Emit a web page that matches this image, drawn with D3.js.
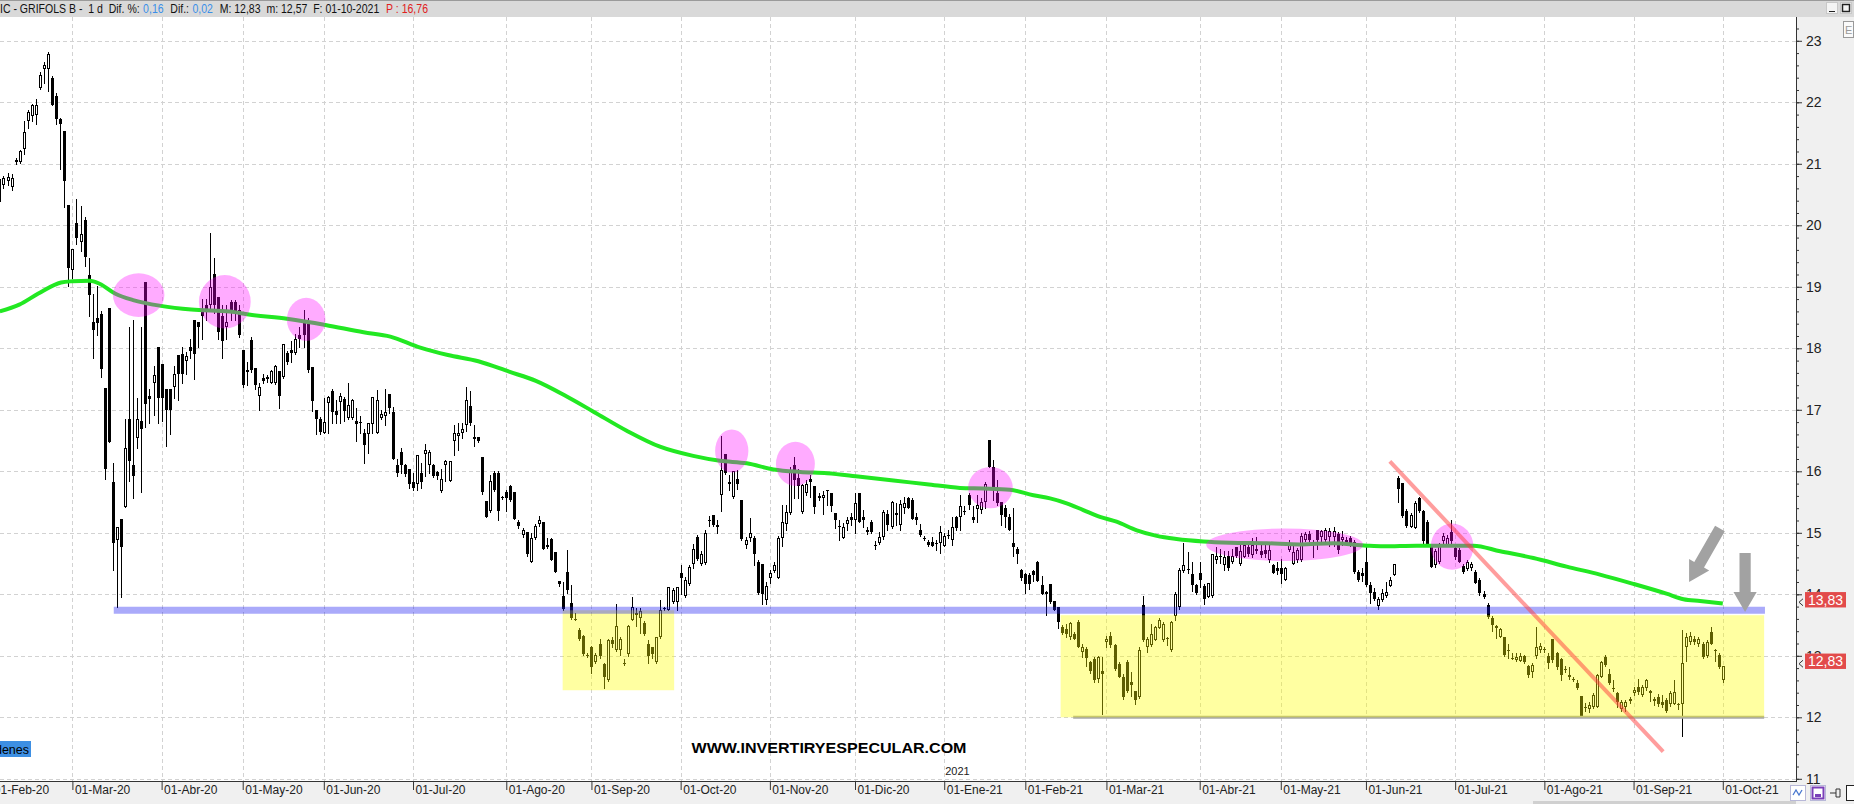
<!DOCTYPE html>
<html><head><meta charset="utf-8">
<script src="https://cdn.jsdelivr.net/npm/d3@7"></script>
<style>
html,body{margin:0;padding:0;background:#fff;overflow:hidden}
svg{display:block}
text{font-family:"Liberation Sans",Arial,sans-serif}
</style></head><body>
<svg id="chart" width="1854" height="804"></svg>
<script>
// ---------------- DATA ----------------
const holidays = ["2020-04-10","2020-04-13","2020-05-01","2020-12-25","2021-01-01","2021-04-02","2021-04-05"];
const calendarStart = "2020-02-03", calendarEnd = "2021-10-01";
const monthTickLabels = ["01-Feb-20","01-Mar-20","01-Abr-20","01-May-20","01-Jun-20","01-Jul-20","01-Ago-20","01-Sep-20","01-Oct-20","01-Nov-20","01-Dic-20","01-Ene-21","01-Feb-21","01-Mar-21","01-Abr-21","01-May-21","01-Jun-21","01-Jul-21","01-Ago-21","01-Sep-21","01-Oct-21"];
const yTickValues = [11,12,13,14,15,16,17,18,19,20,21,22,23];

// daily candles [open, high, low, close]
const m2020_02 = [[20.38,20.79,20.35,20.75],[20.66,20.80,20.60,20.77],[20.72,20.85,20.65,20.78],[20.62,20.83,20.58,20.77],[21.03,21.10,21.00,21.06],[21.03,21.23,21.02,21.20],[21.24,21.69,21.16,21.51],[21.69,21.87,21.59,21.85],[21.78,21.98,21.70,21.96],[21.80,22.05,21.65,21.96],[22.24,22.49,22.21,22.44],[22.54,22.65,22.31,22.60],[22.54,22.82,22.18,22.78],[22.40,22.42,21.95,21.96],[22.11,22.15,21.65,21.73],[21.73,21.75,20.91,21.64],[21.53,21.53,20.29,20.72],[20.33,20.33,19.02,19.30]];
const m2020_03 = [[19.27,19.61,19.14,19.61],[20.04,20.43,19.70,19.79],[19.73,20.32,19.58,19.86],[20.09,20.13,19.33,19.48],[19.19,19.47,18.52,18.87],[18.43,18.89,17.84,18.30],[18.49,19.02,18.21,18.41],[18.55,18.61,17.53,17.67],[17.36,17.36,15.88,16.04],[18.66,18.66,16.47,16.47],[15.82,16.13,14.39,14.83],[14.89,15.09,13.80,15.09],[15.22,15.22,13.96,14.77],[15.42,16.85,15.42,16.38],[16.85,18.34,15.85,16.16],[16.10,18.46,15.57,15.92],[16.54,17.19,16.38,16.85],[16.81,18.34,15.67,16.69],[19.08,19.08,16.72,17.09],[17.23,17.34,16.78,17.17],[17.44,17.72,16.91,17.56],[18.02,18.02,16.78,17.19]];
const m2020_04 = [[17.75,17.75,16.82,17.19],[17.34,17.34,16.41,17.00],[17.34,17.34,16.60,17.00],[17.37,17.72,17.19,17.59],[17.89,17.89,17.16,17.59],[17.90,18.02,17.44,17.59],[17.79,17.94,17.59,17.87],[18.02,18.15,17.84,17.96],[18.46,18.46,17.50,17.90],[18.43,18.43,18.02,18.34],[18.63,18.80,18.15,18.52],[18.71,18.80,18.46,18.62],[18.71,19.87,18.65,18.99],[19.20,19.47,18.58,18.71],[18.84,18.84,18.15,18.27],[18.52,18.71,17.85,18.12],[18.34,18.71,18.15,18.43],[18.76,18.79,18.46,18.62],[18.76,18.78,18.46,18.58],[18.62,18.71,18.18,18.21]];
const m2020_05 = [[17.97,17.97,17.37,17.40],[17.65,17.78,17.40,17.62],[18.13,18.18,17.62,17.65],[17.68,17.68,17.34,17.40],[17.22,17.44,17.00,17.37],[17.52,17.59,17.44,17.47],[17.53,17.56,17.45,17.50],[17.44,17.64,17.43,17.63],[17.44,17.73,17.42,17.72],[17.63,17.63,17.03,17.23],[17.53,18.07,17.52,18.07],[17.93,17.95,17.75,17.78],[17.98,18.12,17.78,17.92],[17.93,18.24,17.90,18.15],[18.21,18.34,18.02,18.15],[18.43,18.63,18.02,18.21],[18.40,18.49,17.62,17.65],[17.70,17.70,16.98,17.14],[17.00,17.00,16.60,16.85],[16.85,16.88,16.60,16.64]];
const m2020_06 = [[16.63,17.19,16.62,16.80],[17.11,17.23,16.63,17.21],[17.31,17.34,16.78,16.97],[16.98,17.16,16.78,16.91],[17.12,17.28,16.78,17.22],[17.17,17.20,16.82,16.98],[16.86,17.44,16.85,17.08],[16.86,17.17,16.85,17.16],[16.82,17.03,16.50,16.77],[16.80,16.90,16.63,16.79],[16.62,16.69,16.13,16.42],[16.61,16.78,16.29,16.78],[16.77,17.21,16.63,17.21],[16.63,17.32,16.62,17.16],[16.86,17.00,16.85,16.93],[16.90,17.33,16.75,16.97],[17.25,17.25,16.94,17.03],[16.96,17.04,16.20,16.20],[16.11,16.20,15.92,15.98],[16.32,16.38,15.98,16.10],[16.10,16.12,15.93,15.95],[16.03,16.03,15.73,15.79]];
const m2020_07 = [[15.82,15.98,15.70,15.73],[15.79,16.27,15.70,16.27],[15.98,16.13,15.73,15.82],[16.28,16.44,15.92,16.35],[16.10,16.35,15.98,16.32],[16.10,16.12,15.90,15.92],[15.99,16.00,15.88,15.92],[15.68,16.04,15.67,15.88],[16.10,16.18,15.85,16.16],[15.85,16.17,15.84,16.16],[16.50,16.75,16.26,16.63],[16.57,16.78,16.35,16.63],[16.63,16.78,16.54,16.69],[16.75,17.37,16.66,17.16],[17.06,17.30,16.75,16.78],[16.55,16.75,16.41,16.53],[16.55,16.56,16.48,16.50],[16.23,16.23,15.63,15.67],[15.51,15.51,15.25,15.26],[15.36,15.94,15.34,15.85],[15.98,16.00,15.68,15.70],[15.98,16.00,15.20,15.36],[15.59,15.60,15.55,15.57]];
const m2020_08 = [[15.67,15.70,15.36,15.57],[15.76,15.78,15.51,15.54],[15.67,15.67,15.22,15.23],[15.17,15.21,15.08,15.11],[14.96,15.08,14.93,15.05],[15.02,15.02,14.63,14.65],[14.53,15.00,14.52,14.92],[14.92,15.15,14.90,15.11],[15.14,15.27,15.11,15.20],[15.17,15.17,14.73,14.74],[14.80,14.92,14.76,14.77],[14.90,14.92,14.55,14.55],[14.69,14.69,14.36,14.37],[14.21,14.22,14.14,14.17],[13.98,14.20,13.74,13.76],[14.36,14.72,14.02,14.07],[13.86,14.15,13.60,13.62],[13.60,13.70,13.58,13.59],[13.42,13.45,13.25,13.28],[13.33,13.34,13.01,13.03],[13.02,13.05,12.98,13.01]];
const m2020_09 = [[13.14,13.16,12.72,12.82],[12.90,13.05,12.88,13.02],[13.20,13.28,12.96,13.00],[12.87,12.88,12.48,12.65],[12.60,13.27,12.59,13.26],[13.26,13.30,13.15,13.20],[13.09,13.85,13.07,13.48],[13.10,13.30,13.01,13.27],[12.89,12.95,12.85,12.88],[13.03,13.50,13.00,13.48],[13.59,13.96,13.58,13.80],[13.69,13.78,13.49,13.67],[13.62,13.78,13.37,13.73],[13.54,13.56,13.34,13.36],[13.20,13.26,12.88,13.00],[13.14,13.15,12.96,13.03],[12.90,13.31,12.88,13.30],[13.30,13.91,13.29,13.74],[13.76,13.80,13.74,13.78],[13.75,14.12,13.74,14.12],[13.88,14.10,13.86,14.07],[13.88,14.12,13.75,14.12]];
const m2020_10 = [[14.34,14.47,14.00,14.26],[13.98,14.28,13.96,14.24],[14.16,14.47,14.15,14.45],[14.50,14.82,14.42,14.74],[14.93,14.96,14.56,14.58],[14.49,14.70,14.47,14.66],[14.51,15.05,14.50,14.99],[15.21,15.28,15.11,15.19],[15.29,15.29,15.11,15.13],[15.12,15.20,15.00,15.10],[15.61,16.58,15.36,16.02],[16.28,16.28,15.96,15.98],[15.79,15.94,15.70,15.83],[15.58,16.01,15.56,16.01],[15.87,16.02,15.72,15.80],[15.53,15.53,14.88,14.90],[14.80,14.93,14.75,14.89],[14.91,15.24,14.86,15.00],[14.91,14.94,14.48,14.66],[14.53,14.56,14.01,14.02],[14.50,14.50,13.85,14.01],[13.90,14.20,13.84,14.13]];
const m2020_11 = [[14.27,14.40,14.19,14.34],[14.38,14.52,14.36,14.47],[14.27,14.94,14.26,14.91],[14.91,15.45,14.78,15.18],[15.15,15.46,15.05,15.34],[15.32,16.07,15.30,16.02],[16.10,16.23,15.57,15.86],[15.89,16.03,15.57,15.76],[15.34,15.79,15.33,15.78],[15.64,15.86,15.62,15.79],[15.87,15.94,15.59,15.83],[15.76,15.76,15.33,15.42],[15.57,15.65,15.53,15.60],[15.56,15.68,15.30,15.61],[15.68,15.70,15.45,15.69],[15.64,15.65,15.36,15.43],[15.32,15.33,15.08,15.20],[15.11,15.21,14.88,15.09],[14.92,15.16,14.91,15.10],[15.15,15.26,15.05,15.21],[15.25,15.33,15.13,15.21]];
const m2020_12 = [[15.21,15.64,14.99,15.49],[15.64,15.64,15.18,15.18],[15.26,15.37,15.10,15.21],[15.04,15.09,14.98,15.02],[15.18,15.21,14.99,15.01],[14.80,14.87,14.73,14.78],[14.84,15.01,14.82,14.93],[14.93,15.37,14.90,15.34],[15.30,15.37,15.05,15.13],[15.10,15.52,15.07,15.50],[15.32,15.48,15.13,15.29],[15.13,15.53,15.05,15.47],[15.40,15.59,15.33,15.48],[15.56,15.59,15.40,15.41],[15.53,15.56,15.22,15.23],[15.26,15.32,15.15,15.21],[15.05,15.15,14.94,14.96],[14.92,14.94,14.89,14.90],[14.85,14.88,14.78,14.80],[14.85,14.93,14.78,14.79],[14.84,14.89,14.72,14.82],[14.83,15.11,14.67,15.02]];
const m2021_01 = [[14.79,15.00,14.78,14.95],[14.94,15.04,14.91,14.96],[14.88,15.26,14.80,15.10],[15.26,15.28,15.04,15.07],[15.25,15.61,15.04,15.43],[15.34,15.43,15.31,15.36],[15.61,15.64,15.38,15.45],[15.26,15.43,15.18,15.20],[15.38,15.61,15.17,15.45],[15.37,15.56,15.32,15.50],[15.50,15.83,15.41,15.80],[16.51,16.51,16.07,16.07],[16.07,16.19,15.54,15.75],[15.64,15.86,15.46,15.48],[15.50,15.50,15.13,15.29],[15.40,15.45,15.10,15.25],[15.26,15.31,15.04,15.05],[14.83,15.40,14.63,14.77],[14.74,14.77,14.51,14.66],[14.40,14.41,14.24,14.26]];
const m2021_02 = [[14.33,14.35,14.02,14.17],[14.32,14.35,14.09,14.16],[14.38,14.39,14.22,14.32],[14.53,14.54,14.21,14.22],[14.15,14.30,14.00,14.01],[14.04,14.05,13.66,14.00],[14.16,14.17,13.86,13.88],[13.89,13.89,13.74,13.75],[13.79,13.79,13.46,13.55],[13.47,13.50,13.36,13.37],[13.44,13.52,13.31,13.36],[13.30,13.55,13.28,13.53],[13.36,13.39,13.27,13.28],[13.55,13.58,13.14,13.14],[13.06,13.19,12.98,13.14],[13.11,13.14,12.83,12.97],[12.90,12.92,12.72,12.76],[12.95,12.98,12.58,12.60],[12.63,12.99,12.58,12.98],[12.76,12.98,12.05,12.70]];
const m2021_03 = [[13.22,13.33,13.14,13.28],[13.33,13.39,13.15,13.17],[13.17,13.20,12.77,12.79],[12.87,12.90,12.65,12.66],[12.65,12.71,12.30,12.33],[12.90,12.93,12.41,12.43],[12.57,12.73,12.34,12.53],[12.43,12.43,12.21,12.28],[12.33,13.14,12.32,13.09],[13.82,13.98,13.24,13.25],[13.14,13.31,13.06,13.28],[13.17,13.52,13.16,13.36],[13.26,13.48,13.25,13.47],[13.46,13.61,13.45,13.59],[13.25,13.55,13.24,13.52],[13.29,13.31,13.17,13.28],[13.09,13.56,13.08,13.55],[13.64,14.04,13.59,14.01],[13.79,14.42,13.76,14.39],[14.38,14.83,14.37,14.47],[14.41,14.69,14.35,14.40],[14.33,14.53,14.06,14.15],[14.15,14.16,14.00,14.02]];
const m2021_04 = [[14.34,14.53,14.12,14.23],[14.13,14.17,13.84,13.93],[13.96,14.19,13.95,14.18],[13.98,14.66,13.96,14.65],[14.55,14.77,14.51,14.62],[14.61,14.74,14.51,14.63],[14.47,14.71,14.40,14.61],[14.62,14.71,14.40,14.42],[14.53,14.74,14.51,14.62],[14.77,14.77,14.60,14.62],[14.49,14.83,14.48,14.71],[14.61,14.83,14.60,14.80],[14.77,14.83,14.62,14.65],[14.64,14.91,14.61,14.80],[14.71,14.93,14.67,14.73],[14.71,14.80,14.61,14.64],[14.72,14.83,14.61,14.65],[14.55,14.83,14.52,14.72],[14.47,14.50,14.34,14.35],[14.43,14.52,14.33,14.38]];
const m2021_05 = [[14.43,14.57,14.19,14.33],[14.24,14.45,14.23,14.43],[14.72,14.88,14.70,14.83],[14.50,14.78,14.49,14.69],[14.55,14.75,14.53,14.72],[14.55,14.99,14.54,14.95],[14.88,15.02,14.86,14.98],[14.98,15.03,14.87,14.89],[14.83,14.88,14.60,14.84],[15.04,15.05,14.74,14.88],[14.93,15.04,14.82,15.03],[14.88,15.07,14.85,15.04],[14.93,15.07,14.79,15.03],[14.93,15.10,14.79,15.03],[14.98,15.02,14.67,14.72],[14.88,15.03,14.80,14.93],[14.89,14.93,14.83,14.83],[14.91,14.94,14.78,14.80],[14.85,14.88,14.34,14.37],[14.37,14.40,14.22,14.23],[14.35,14.43,14.22,14.29]];
const m2021_06 = [[14.53,14.77,14.13,14.15],[14.15,14.20,13.86,14.02],[14.03,14.10,13.91,13.93],[13.81,13.96,13.76,13.92],[13.91,14.08,13.89,14.02],[13.97,14.20,13.96,14.04],[14.14,14.28,14.13,14.24],[14.32,14.50,14.31,14.49],[15.89,15.92,15.50,15.71],[15.81,15.81,15.25,15.28],[15.35,15.38,15.10,15.11],[15.10,15.32,15.09,15.29],[15.08,15.51,15.07,15.48],[15.57,15.59,15.34,15.36],[15.36,15.37,14.84,14.86],[15.18,15.21,14.80,14.82],[14.78,14.81,14.44,14.45],[14.48,14.73,14.45,14.70],[14.53,14.83,14.51,14.79],[14.86,15.00,14.83,14.94],[14.80,14.97,14.78,14.91],[15.02,15.21,14.83,14.86]];
const m2021_07 = [[14.75,14.79,14.57,14.61],[14.72,14.75,14.52,14.53],[14.46,14.50,14.34,14.37],[14.41,14.55,14.39,14.52],[14.42,14.52,14.40,14.49],[14.37,14.40,14.18,14.19],[14.23,14.26,13.99,14.02],[14.00,14.06,13.94,13.96],[13.83,13.86,13.61,13.63],[13.61,13.64,13.40,13.50],[13.48,13.50,13.29,13.46],[13.31,13.45,13.30,13.43],[13.30,13.31,12.99,13.01],[13.10,13.20,12.97,13.08],[12.97,13.04,12.94,12.96],[12.93,13.04,12.92,12.98],[12.92,13.04,12.91,12.99],[12.99,13.01,12.88,12.90],[12.83,12.85,12.65,12.68],[12.74,12.88,12.65,12.85],[12.99,13.47,12.97,13.15],[13.09,13.21,13.06,13.16]];
const m2021_08 = [[13.11,13.15,13.06,13.10],[12.99,13.04,12.80,12.88],[13.27,13.28,12.90,12.93],[13.04,13.06,12.79,12.82],[12.94,12.96,12.60,12.68],[12.79,12.83,12.74,12.78],[12.68,12.82,12.62,12.65],[12.62,12.65,12.59,12.61],[12.55,12.60,12.46,12.47],[12.34,12.35,12.01,12.02],[12.17,12.23,12.10,12.16],[12.14,12.25,12.09,12.20],[12.16,12.39,12.15,12.36],[12.17,12.71,12.16,12.68],[12.66,12.92,12.65,12.90],[12.98,13.01,12.83,12.85],[12.71,12.79,12.54,12.55],[12.48,12.61,12.42,12.46],[12.39,12.41,12.17,12.25],[12.14,12.28,12.11,12.25],[12.17,12.28,12.11,12.25],[12.29,12.33,12.24,12.27]];
const m2021_09 = [[12.39,12.49,12.36,12.45],[12.49,12.62,12.38,12.41],[12.36,12.52,12.34,12.49],[12.47,12.63,12.45,12.60],[12.42,12.44,12.27,12.40],[12.29,12.33,12.20,12.27],[12.33,12.38,12.19,12.22],[12.25,12.36,12.16,12.20],[12.28,12.31,12.09,12.11],[12.22,12.42,12.19,12.39],[12.22,12.61,12.21,12.41],[12.22,12.24,12.13,12.20],[12.21,13.42,11.69,12.88],[13.15,13.37,12.91,13.31],[13.23,13.39,13.20,13.32],[13.28,13.33,13.19,13.23],[13.19,13.31,13.16,13.27],[13.19,13.23,12.97,12.98],[12.99,13.26,12.98,13.23],[13.39,13.47,13.20,13.20],[13.10,13.11,12.92,13.09],[13.01,13.04,12.80,12.81]];
const m2021_10 = [[12.60,12.83,12.57,12.83]];
const candleMonths = [["2020-02-05",m2020_02],["2020-03-02",m2020_03],["2020-04-01",m2020_04],["2020-05-04",m2020_05],["2020-06-01",m2020_06],["2020-07-01",m2020_07],["2020-08-03",m2020_08],["2020-09-01",m2020_09],["2020-10-01",m2020_10],["2020-11-02",m2020_11],["2020-12-01",m2020_12],["2021-01-04",m2021_01],["2021-02-01",m2021_02],["2021-03-01",m2021_03],["2021-04-01",m2021_04],["2021-05-03",m2021_05],["2021-06-01",m2021_06],["2021-07-01",m2021_07],["2021-08-02",m2021_08],["2021-09-01",m2021_09],["2021-10-01",m2021_10]];

// moving average (green): [bar, price]
const maLine = [[2.1,18.6],[6.9,18.71],[11.6,18.89],[17.2,19.07],[20,19.09],[24.3,19.1],[26.7,19.05],[30.5,18.89],[35.2,18.78],[41.8,18.69],[49.3,18.63],[58.8,18.6],[63.5,18.55],[72.9,18.48],[82.4,18.38],[91.8,18.26],[98.4,18.19],[105.8,18.01],[112.6,17.89],[120.1,17.79],[127.7,17.62],[134.3,17.47],[141.8,17.22],[148.5,16.97],[156.7,16.66],[164.9,16.4],[173.1,16.25],[179.7,16.17],[186.3,16.13],[192.9,16.03],[199.5,15.99],[206.1,15.97],[214.3,15.91],[222.5,15.85],[230.7,15.79],[238.9,15.73],[244.7,15.72],[251.2,15.7],[257,15.61],[261.1,15.56],[265.2,15.48],[269.3,15.37],[273.4,15.26],[277.5,15.18],[282.5,15.04],[287.4,14.95],[292.3,14.9],[298.9,14.86],[305.5,14.84],[314.5,14.83],[322.7,14.81],[330.9,14.83],[339.2,14.79],[343.3,14.78],[351.5,14.79],[359.7,14.79],[365.5,14.79],[372.1,14.7],[380.3,14.59],[388.5,14.45],[396.7,14.32],[404.9,14.17],[413.1,14.01],[417.3,13.92],[421.4,13.89],[427,13.85]];

// annotations (bar index / price units)
const ellipses = [[29.98,42.7,18.51,19.22],[51.2,63.97,18.32,19.19],[72.9,82.4,18.12,18.82],[178.5,186.7,15.98,16.68],[193.5,203.1,15.76,16.48],[240.9,251.9,15.40,16.07],[299.6,338.3,14.54,15.07],[355.0,365.5,14.40,15.15]];
const zones = [[140.9,168.4,12.44,13.74],[263.7,437.2,12.0,13.66]];
const supportLine = [30.2,437.4,13.74];
const floorLine = [266.8,437.2,12.0];
const trendLine = [[344.9,16.16],[412.3,11.44]];
const arrows = [[426.3,15.07,418.7,14.2],[432.5,14.67,432.5,13.71]];
const priceTags = [["13,83",13.83],["12,83",12.83]];
const titleParts = [["IC - GRIFOLS B -  1 d  Dif. %:","#111"],["0,16","#3a8fe8"],["Dif.:","#111"],["0,02","#3a8fe8"],["M: 12,83  m: 12,57  F: 01-10-2021","#111"],["P : 16,76","#e02020"]];
const watermark = "WWW.INVERTIRYESPECULAR.COM";

// ---------------- CHART ----------------
function tradingDays(start, end, hol){
  const out=[]; const d=new Date(start+"T00:00:00Z"); const e=new Date(end+"T00:00:00Z");
  while(d<=e){const wd=d.getUTCDay(); const s=d.toISOString().slice(0,10);
    if(wd!==0&&wd!==6&&!hol.includes(s)) out.push(s); d.setUTCDate(d.getUTCDate()+1);}
  return out;
}
const dates = tradingDays(calendarStart, calendarEnd, holidays);
const dateIndex = new Map(dates.map((d,i)=>[d,i]));
const monthStarts = dates.map((d,i)=>i).filter(i=>i===0||dates[i].slice(0,7)!==dates[i-1].slice(0,7));

const bars=[];
candleMonths.forEach(([start,rows])=>{
  const s=dateIndex.get(start);
  rows.forEach((r,k)=>bars.push({i:s+k,o:r[0],h:r[1],l:r[2],c:r[3]}));
});

const PL=0, PR=1796, PT=17, PB=781;
const x = d3.scaleLinear().domain([0, dates.length-1]).range([-8.7, -8.7+(dates.length-1)*4.055]);
const y = d3.scaleLinear().domain([10.97, 23.39]).range([780.65, 16.8]);

const svg = d3.select("#chart");
svg.append("rect").attr("width",1854).attr("height",804).attr("fill","#fff");
svg.append("defs").append("clipPath").attr("id","plotclip").append("rect")
  .attr("x",PL).attr("y",PT).attr("width",PR-PL).attr("height",PB-PT);

const plot = svg.append("g").attr("clip-path","url(#plotclip)");

// grid
const grid = plot.append("g").attr("stroke","#d2d2d2").attr("stroke-dasharray","4,3").attr("stroke-width",1);
grid.selectAll("line.h").data(yTickValues).join("line")
  .attr("x1",PL).attr("x2",PR).attr("y1",d=>Math.round(y(d))+0.5).attr("y2",d=>Math.round(y(d))+0.5);
grid.selectAll("line.v").data(monthStarts).join("line")
  .attr("x1",d=>Math.round(x(d))+0.5).attr("x2",d=>Math.round(x(d))+0.5).attr("y1",PT).attr("y2",PB);

// candles
const gc = plot.append("g");
gc.selectAll("line").data(bars).join("line")
  .attr("x1",d=>Math.round(x(d.i))+0.5).attr("x2",d=>Math.round(x(d.i))+0.5)
  .attr("y1",d=>Math.round(y(d.h))).attr("y2",d=>Math.round(y(d.l))+1)
  .attr("stroke","#000").attr("stroke-width",1);
gc.selectAll("rect").data(bars).join("rect")
  .each(function(d){
    const cx=Math.round(x(d.i));
    const top=Math.round(y(Math.max(d.o,d.c))), bot=Math.round(y(Math.min(d.o,d.c)));
    const el=d3.select(this);
    if(d.c>d.o){
      const h=Math.max(1,bot-top);
      el.attr("x",cx-1+0.5).attr("y",top+0.5).attr("width",2).attr("height",Math.max(0.01,h-1))
        .attr("fill","#fff").attr("stroke","#000").attr("stroke-width",1);
    } else {
      el.attr("x",cx-1).attr("y",top).attr("width",3).attr("height",Math.max(1,bot-top)).attr("fill","#000");
    }
  });

// moving average
plot.append("path").datum(maLine)
  .attr("d",d3.line().x(d=>x(d[0])).y(d=>y(d[1])).curve(d3.curveMonotoneX))
  .attr("fill","none").attr("stroke","#22e822").attr("stroke-width",4);

// floor grey line
plot.append("line").attr("x1",x(floorLine[0])).attr("x2",x(floorLine[1]))
  .attr("y1",y(floorLine[2])).attr("y2",y(floorLine[2])).attr("stroke","#a8a8a8").attr("stroke-width",3);

// yellow zones
plot.selectAll("rect.zone").data(zones).join("rect").attr("class","zone")
  .attr("x",d=>x(d[0])).attr("width",d=>x(d[1])-x(d[0]))
  .attr("y",d=>y(d[3])).attr("height",d=>y(d[2])-y(d[3]))
  .attr("fill","rgba(255,255,0,0.37)");

// support band
plot.append("line").attr("x1",x(supportLine[0])).attr("x2",x(supportLine[1]))
  .attr("y1",y(supportLine[2])).attr("y2",y(supportLine[2]))
  .attr("stroke","rgba(20,20,240,0.36)").attr("stroke-width",7);

// pink ellipses
plot.selectAll("ellipse").data(ellipses).join("ellipse")
  .attr("cx",d=>(x(d[0])+x(d[1]))/2).attr("cy",d=>(y(d[2])+y(d[3]))/2)
  .attr("rx",d=>(x(d[1])-x(d[0]))/2).attr("ry",d=>(y(d[2])-y(d[3]))/2)
  .attr("fill","rgba(255,0,255,0.33)");

// trend line
plot.append("line").attr("x1",x(trendLine[0][0])).attr("y1",y(trendLine[0][1]))
  .attr("x2",x(trendLine[1][0])).attr("y2",y(trendLine[1][1]))
  .attr("stroke","rgba(255,60,60,0.5)").attr("stroke-width",4);

// arrows
plot.selectAll("path.arrow").data(arrows).join("path").attr("class","arrow")
  .attr("d",d=>{
    const x0=x(d[0]),y0=y(d[1]),x1=x(d[2]),y1=y(d[3]);
    const dx=x1-x0,dy=y1-y0,L=Math.hypot(dx,dy),ux=dx/L,uy=dy/L,nx=-uy,ny=ux;
    const sw=5.6,hw=11.6,hl=20;
    const bx=x1-ux*hl,by=y1-uy*hl;
    const p=[[x0+nx*sw,y0+ny*sw],[bx+nx*sw,by+ny*sw],[bx+nx*hw,by+ny*hw],[x1,y1],[bx-nx*hw,by-ny*hw],[bx-nx*sw,by-ny*sw],[x0-nx*sw,y0-ny*sw]];
    return "M"+p.map(q=>q[0].toFixed(1)+","+q[1].toFixed(1)).join("L")+"Z";
  }).attr("fill","#a2a2a2");

// watermark
svg.append("text").attr("x",691.5).attr("y",752.5).attr("font-size",15).attr("font-weight","bold")
  .attr("fill","#000").attr("textLength",275).attr("lengthAdjust","spacingAndGlyphs").text(watermark);

// left label
svg.append("rect").attr("x",-45).attr("y",741).attr("width",76).attr("height",16).attr("fill","#3d8fe3");
svg.append("text").attr("x",29).attr("y",753.5).attr("text-anchor","end").attr("font-size",12.5).attr("fill","#000").text("Órdenes");

// right axis panel
svg.append("rect").attr("x",PR).attr("y",PT).attr("width",1854-PR).attr("height",PB-PT).attr("fill","#f0f0f0");
// bottom panel
svg.append("rect").attr("x",0).attr("y",PB).attr("width",1854).attr("height",804-PB).attr("fill","#f0f0f0");

// y axis
const gyMinor = svg.append("g").attr("transform",`translate(${PR},0)`)
  .call(d3.axisRight(y).tickValues(y.ticks(60)).tickSize(3).tickFormat(""));
gyMinor.select(".domain").remove();
gyMinor.selectAll("line").attr("stroke","#333");
const gy = svg.append("g").attr("transform",`translate(${PR},0)`)
  .call(d3.axisRight(y).tickValues(yTickValues).tickSize(6).tickPadding(4).tickFormat(d3.format("d")));
gy.select(".domain").remove();
gy.selectAll("line").attr("stroke","#333");
gy.selectAll("text").attr("font-size",14).attr("font-family","'Liberation Sans',Arial,sans-serif").attr("fill","#222");
svg.append("line").attr("x1",PR+0.5).attr("x2",PR+0.5).attr("y1",PT).attr("y2",PB).attr("stroke","#333");

// x axis
const gx = svg.append("g").attr("transform",`translate(0,${PB})`)
  .call(d3.axisBottom(x).tickValues(monthStarts).tickSize(9).tickFormat((d,k)=>monthTickLabels[k]));
gx.select(".domain").remove();
gx.selectAll("line").attr("stroke","#333");
gx.selectAll("text").attr("text-anchor","start").attr("x",2).attr("y",4).attr("dy","0.71em")
  .attr("font-size",12).attr("font-family","'Liberation Sans',Arial,sans-serif").attr("fill","#222");
svg.append("line").attr("x1",0).attr("x2",PR+1).attr("y1",PB+0.5).attr("y2",PB+0.5).attr("stroke","#333");
// year marker
const yearIdx = monthStarts.find(i=>dates[i].startsWith("2021"));
svg.append("text").attr("x",x(yearIdx)+1).attr("y",775).attr("font-size",11).attr("fill","#222").text("2021");

// price tags
priceTags.forEach(([t,v])=>{
  const cy=y(v)-5;
  svg.append("rect").attr("x",1805).attr("y",cy-7.7).attr("width",41).attr("height",15.4).attr("fill","#e24b4b");
  svg.append("text").attr("x",1825.5).attr("y",cy+5).attr("text-anchor","middle").attr("font-size",14).attr("fill","#fff").text(t);
  svg.append("path").attr("d",`M${1803},${cy-1} L${1799},${cy+2.5} L${1803},${cy+6}`).attr("fill","none").attr("stroke","#333");
});

// title bar
svg.append("rect").attr("x",0).attr("y",0).attr("width",1854).attr("height",PT).attr("fill","#d9d9d9");
svg.append("line").attr("x1",0).attr("x2",1854).attr("y1",0.5).attr("y2",0.5).attr("stroke","#9a9a9a");
const tg = svg.append("g");
let cursor = 0;
const gap = 8;
titleParts.forEach(([s,c],k)=>{
  const t = tg.append("text").attr("x",cursor).attr("y",13.5).attr("font-size",12.5).attr("fill",c).style("white-space","pre").text(s);
  const w = t.node().getComputedTextLength();
  cursor += w + (k===0||k===2 ? 4 : gap);
});
const totalW = cursor - gap;
tg.attr("transform",`scale(${(428/totalW).toFixed(4)},1)`);
// window buttons
svg.append("rect").attr("x",1826.5).attr("y",2.5).attr("width",11).attr("height",11).attr("fill","#f4f4f4").attr("stroke","#c8c8c8");
svg.append("line").attr("x1",1829).attr("x2",1835).attr("y1",11.5).attr("y2",11.5).attr("stroke","#222");
svg.append("rect").attr("x",1840.5).attr("y",2.5).attr("width",11).attr("height",11).attr("fill","#f4f4f4").attr("stroke","#c8c8c8");
svg.append("rect").attr("x",1842.5).attr("y",4.5).attr("width",7).attr("height",7).attr("fill","none").attr("stroke","#222").attr("stroke-width",1.5);
svg.append("rect").attr("x",1843.5).attr("y",21.5).attr("width",10).attr("height",16).attr("fill","#fafafa").attr("stroke","#999");
svg.append("text").attr("x",1845).attr("y",34).attr("font-size",11).attr("fill","#999").text("E");

// bottom-right icons
svg.append("rect").attr("x",1790.5).attr("y",785.5).attr("width",15).attr("height",15).attr("fill","#fff").attr("stroke","#b8b8d8");
svg.append("path").attr("d","M1793,795 L1796,790 L1799,795 L1802,790").attr("fill","none").attr("stroke","#4a78d0").attr("stroke-width",1.3);
svg.append("rect").attr("x",1810.5).attr("y",785.5).attr("width",15).attr("height",15).attr("fill","#fff").attr("stroke","#b8b8d8");
svg.append("rect").attr("x",1812.5).attr("y",787.5).attr("width",11).attr("height",11).attr("fill","none").attr("stroke","#7a3fb8").attr("stroke-width",2);
svg.append("rect").attr("x",1815).attr("y",794).attr("width",6).attr("height",3).attr("fill","#7a3fb8");
svg.append("path").attr("d","M1830,793 L1836,793 M1836,789 L1836,797 L1840,797 L1840,789 Z").attr("fill","none").attr("stroke","#333");
svg.append("rect").attr("x",1846.5).attr("y",785.5).attr("width",10).attr("height",15).attr("fill","#fff").attr("stroke","#222");
svg.append("rect").attr("x",1533).attr("y",801).attr("width",263).attr("height",3).attr("fill","#d0d0d0");
</script>
</body></html>
